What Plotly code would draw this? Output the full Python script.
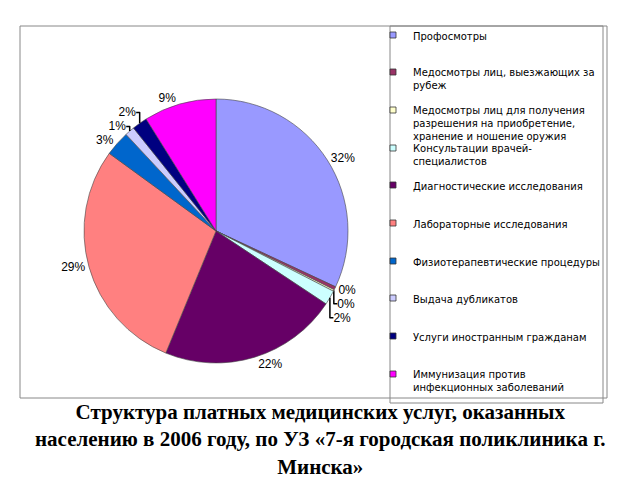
import plotly.graph_objects as go

categories = [
    "Профосмотры",
    "Медосмотры лиц, выезжающих за<br>рубеж",
    "Медосмотры лиц для получения<br>разрешения на приобретение,<br>хранение и ношение оружия",
    "Консультации врачей-<br>специалистов",
    "Диагностические исследования",
    "Лабораторные исследования",
    "Физиотерапевтические процедуры",
    "Выдача дубликатов",
    "Услуги иностранным гражданам",
    "Иммунизация против<br>инфекционных заболеваний",
]
values = [32.4, 0.4, 0.2, 1.8, 22.2, 29.2, 3.1, 1.2, 1.9, 9.0]
colors = ["#9999FF", "#993366", "#FFFFCC", "#CCFFFF", "#660066",
          "#FF8080", "#0066CC", "#CCCCFF", "#000080", "#FF00FF"]

title_lines = [
    "Структура платных медицинских услуг, оказанных",
    "населению в 2006 году, по УЗ «7-я городская поликлиника г.",
    "Минска»",
]

fig = go.Figure()
fig.add_trace(go.Pie(
    labels=[c.replace("<br>", " ") for c in categories],
    values=values,
    sort=False,
    direction="clockwise",
    rotation=0,
    marker=dict(colors=colors, line=dict(color="#444", width=0.6)),
    texttemplate="%{percent:.0%}",
    textposition="outside",
    textfont=dict(family="Liberation Sans, Arial", size=12, color="black"),
    showlegend=False,
    domain=dict(x=[84/640, 348/640], y=[117/480, 381/480]),
    hoverinfo="label+percent",
))

# legend item first-line centres (px from top)
legend_rows = [35, 72, 110, 148, 185, 223, 261, 298, 336, 374]
legend_font = dict(family="DejaVu Sans, Arial", size=10, color="black")
layout_legends = {}
for i, (c, col, row) in enumerate(zip(categories, colors, legend_rows)):
    key = "legend" if i == 0 else f"legend{i+1}"
    fig.add_trace(go.Scatter(
        x=[None], y=[None], mode="markers", name=c, legend=key,
        marker=dict(symbol="square", size=6, color=col,
                    line=dict(color="#333", width=0.8)),
    ))
    layout_legends[key] = dict(
        x=373/640, y=1 - (row - 13)/480, xanchor="left", yanchor="top",
        font=legend_font, valign="top", bgcolor="rgba(0,0,0,0)",
        borderwidth=0, itemwidth=30,
    )

fig.update_xaxes(visible=False)
fig.update_yaxes(visible=False)

fig.add_shape(type="rect", xref="paper", yref="paper",
              x0=20/640, x1=607/640, y0=1-398/480, y1=1-26/480,
              line=dict(color="#888", width=1))
fig.add_shape(type="rect", xref="paper", yref="paper",
              x0=390/640, x1=603/640, y0=1-403/480, y1=1-26/480,
              line=dict(color="#888", width=1))

fig.add_annotation(
    text="<br>".join(f"<b>{t}</b>" for t in title_lines),
    xref="paper", yref="paper",
    x=0.5, y=1-398/480, xanchor="center", yanchor="top", showarrow=False,
    font=dict(family="Liberation Serif, Times New Roman", size=21, color="black"),
    align="center",
)

fig.update_layout(
    width=640, height=480,
    margin=dict(l=0, r=0, t=0, b=0),
    paper_bgcolor="white", plot_bgcolor="white",
    **layout_legends,
)

fig.write_html("out.html")
